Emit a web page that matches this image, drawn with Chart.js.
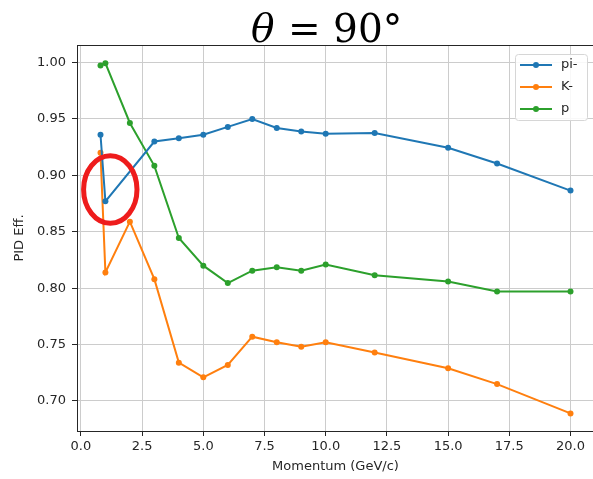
<!DOCTYPE html>
<html>
<head>
<meta charset="utf-8">
<script src="https://cdn.jsdelivr.net/npm/chart.js@4"></script>
<style>
  html, body { margin: 0; padding: 0; background: #fff; width: 593px; height: 479px; overflow: hidden; }
  #wrap { width: 600px; height: 479px; }
</style>
</head>
<body>
<div id="wrap"><canvas id="eff" width="600" height="479"></canvas></div>
<script>
// PID efficiency vs momentum at theta = 90 deg
const MOMENTUM    = [0.8, 1, 2, 3, 4, 5, 6, 7, 8, 9, 10, 12, 15, 17, 20];
const MOMENTUM_PI = [0.8, 1, 3, 4, 5, 6, 7, 8, 9, 10, 12, 15, 17, 20];
const EFF_PI = [0.936, 0.877, 0.930, 0.933, 0.936, 0.943, 0.950, 0.942, 0.939, 0.937, 0.9375, 0.9245, 0.9105, 0.8865];
const EFF_K  = [0.920, 0.814, 0.859, 0.808, 0.734, 0.721, 0.732, 0.757, 0.752, 0.748, 0.752, 0.743, 0.729, 0.715, 0.689];
const EFF_P  = [0.9975, 0.9995, 0.9465, 0.9085, 0.8445, 0.820, 0.8045, 0.8155, 0.8185, 0.8155, 0.821, 0.8115, 0.806, 0.797, 0.797];

const X_TICKS = [0, 2.5, 5, 7.5, 10, 12.5, 15, 17.5, 20];
const Y_TICKS = [0.70, 0.75, 0.80, 0.85, 0.90, 0.95, 1.00];

// highlighted region around the pi- dip
const MARK_X = 1.2, MARK_Y = 0.8875;

const C_PI = '#1f77b4', C_K = '#ff7f0e', C_P = '#2ca02c';
const INK = '#262626';
const FONT = '"DejaVu Sans", sans-serif';

function pts(xs, ys) { return xs.map((x, i) => ({ x, y: ys[i] })); }

function series(label, xs, ys, color) {
  return {
    label, data: pts(xs, ys),
    borderColor: color, backgroundColor: color,
    borderWidth: 2, pointRadius: 3, pointBorderWidth: 0,
    pointBackgroundColor: color, tension: 0,
  };
}

const decor = {
  id: 'decor',
  afterDatasetsDraw(chart) {
    const { ctx, chartArea: a, scales } = chart;
    ctx.save();
    // spines
    ctx.strokeStyle = INK;
    ctx.lineWidth = 1;
    ctx.strokeRect(a.left + 0.5, a.top + 0.5, a.right - a.left, a.bottom - a.top);

    // red ring
    ctx.strokeStyle = '#ee1c1c';
    ctx.lineWidth = 5;
    ctx.beginPath();
    ctx.ellipse(scales.x.getPixelForValue(MARK_X), scales.y.getPixelForValue(MARK_Y), 26.7, 33.8, 0, 0, Math.PI * 2);
    ctx.stroke();

    // legend
    const lx = 515, ly = 54, lw = 72, lh = 66;
    ctx.fillStyle = 'rgba(255,255,255,0.85)';
    ctx.strokeStyle = '#d6d6d6';
    ctx.lineWidth = 1;
    ctx.beginPath();
    ctx.roundRect(lx + 0.5, ly + 0.5, lw, lh, 3);
    ctx.fill();
    ctx.stroke();
    chart.data.datasets.forEach((ds, i) => {
      const y = 65 + i * 22;
      ctx.strokeStyle = ds.borderColor;
      ctx.lineWidth = 2;
      ctx.beginPath();
      ctx.moveTo(520, y); ctx.lineTo(552, y);
      ctx.stroke();
      ctx.fillStyle = ds.borderColor;
      ctx.beginPath();
      ctx.arc(536, y, 3, 0, Math.PI * 2);
      ctx.fill();
      ctx.fillStyle = INK;
      ctx.font = '13px ' + FONT;
      ctx.textAlign = 'left';
      ctx.textBaseline = 'middle';
      ctx.fillText(ds.label, 561, y);
    });

    // axis labels
    ctx.fillStyle = INK;
    ctx.font = '13px ' + FONT;
    ctx.textAlign = 'center';
    ctx.textBaseline = 'middle';
    ctx.fillText('Momentum (GeV/c)', (a.left + a.right) / 2, 467);
    ctx.save();
    ctx.translate(20, (a.top + a.bottom) / 2);
    ctx.rotate(-Math.PI / 2);
    ctx.fillText('PID Eff.', 0, 0);
    ctx.restore();

    // title
    ctx.fillStyle = '#000';
    ctx.textAlign = 'left';
    ctx.textBaseline = 'alphabetic';
    ctx.font = 'italic 39px "DejaVu Serif", serif';
    ctx.fillText('\u03b8', 251, 42);
    ctx.font = '39px "DejaVu Serif", serif';
    ctx.fillText('= 90\u00b0', 288, 42);
    ctx.restore();
  }
};

new Chart(document.getElementById('eff'), {
  type: 'line',
  data: {
    datasets: [
      series('pi-', MOMENTUM_PI, EFF_PI, C_PI),
      series('K-', MOMENTUM, EFF_K, C_K),
      series('p', MOMENTUM, EFF_P, C_P),
    ]
  },
  options: {
    responsive: false,
    animation: false,
    devicePixelRatio: 1,
    layout: { padding: { top: 45, right: 6, left: 0, bottom: 0 } },
    plugins: { legend: { display: false }, tooltip: { enabled: false }, title: { display: false } },
    scales: {
      x: {
        type: 'linear', min: -0.16, max: 20.96,
        afterBuildTicks: s => { s.ticks = X_TICKS.map(v => ({ value: v })); },
        afterFit: s => { s.height = 48; },
        ticks: { callback: v => v.toFixed(1), color: INK, font: { family: FONT, size: 13 }, padding: 3, maxRotation: 0 },
        grid: { color: '#cccccc', lineWidth: 1, tickLength: 5, tickColor: INK, drawOnChartArea: true },
        border: { color: INK, width: 1 },
      },
      y: {
        type: 'linear', min: 0.6734, max: 1.0156,
        afterBuildTicks: s => { s.ticks = Y_TICKS.map(v => ({ value: v })); },
        afterFit: s => { s.width = 77; },
        ticks: { callback: v => v.toFixed(2), color: INK, font: { family: FONT, size: 13 }, padding: 6 },
        grid: { color: '#cccccc', lineWidth: 1, tickLength: 5, tickColor: INK },
        border: { color: INK, width: 1 },
      }
    }
  },
  plugins: [decor]
});
</script>
</body>
</html>
